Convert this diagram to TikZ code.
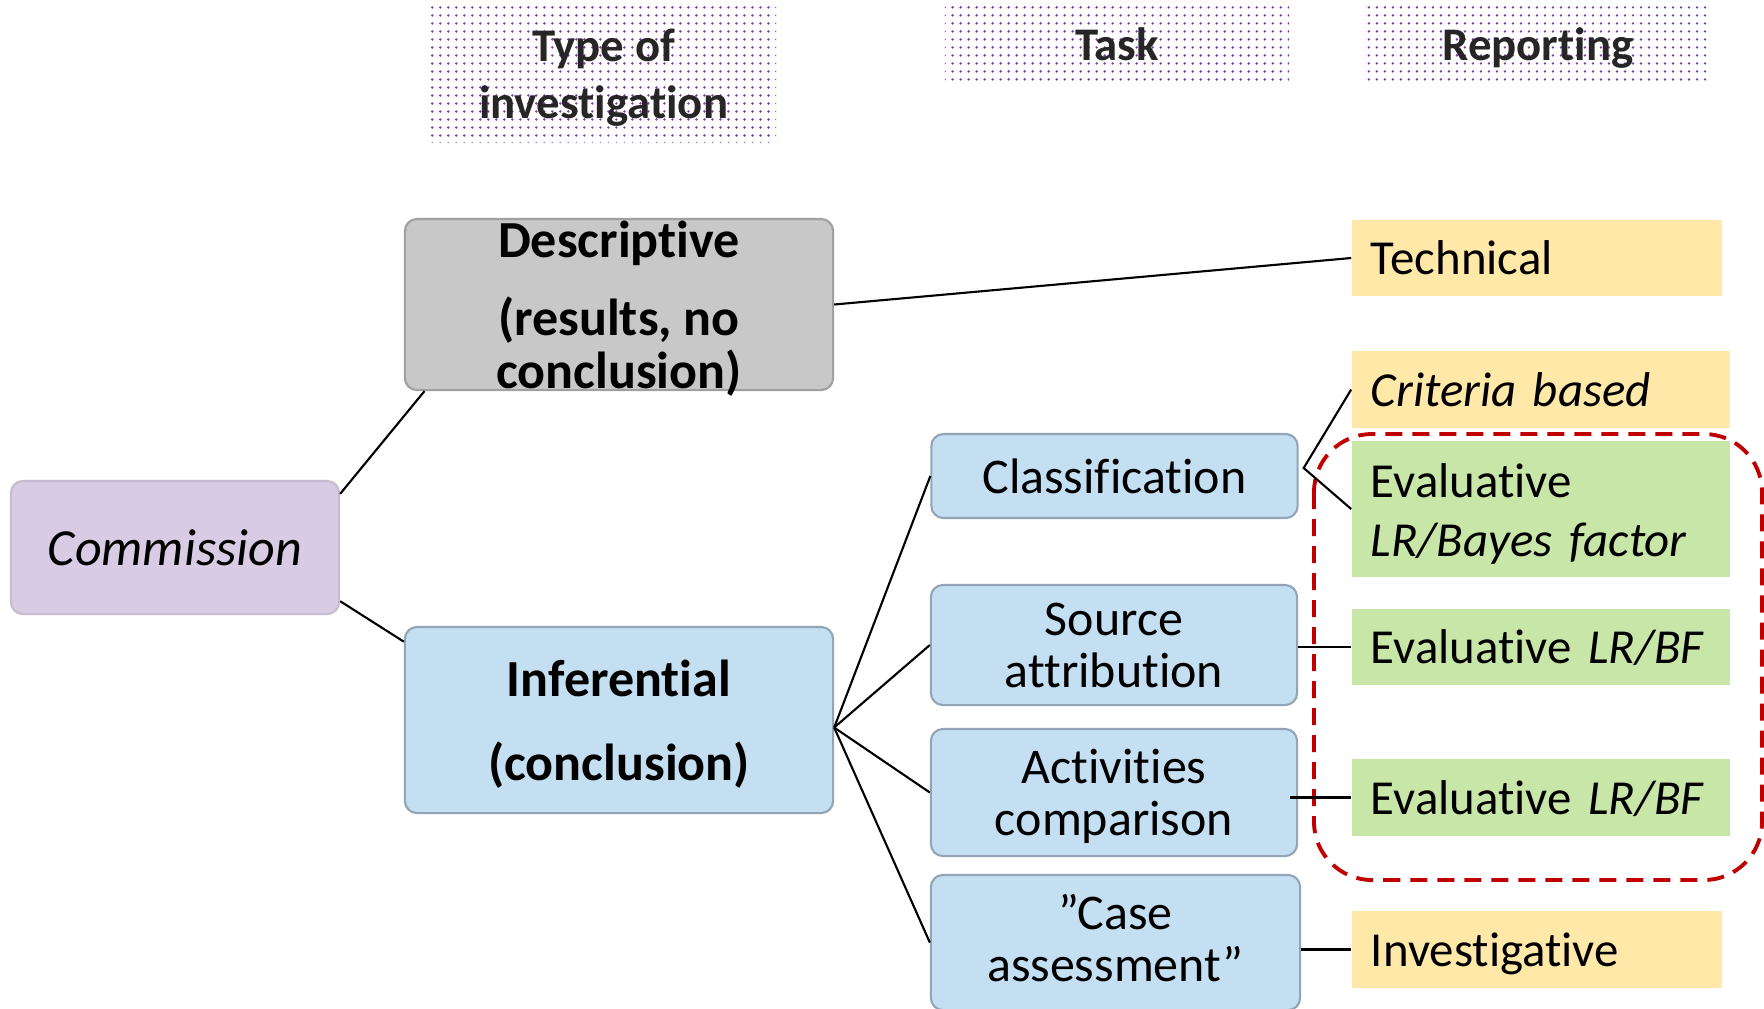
\documentclass[tikz,border=0pt]{standalone}
\usepackage{fontspec}
\setmainfont{Carlito}[Ligatures=NoCommon]
\usetikzlibrary{calc,patterns.meta}
\definecolor{CommClr}{RGB}{216,203,228}
\definecolor{DescClr}{RGB}{200,200,200}
\definecolor{InferClr}{RGB}{196,222,242}
\definecolor{FrameClr}{RGB}{146,164,181}
\definecolor{RepClr}{RGB}{255,232,168}
\definecolor{EvalClr}{RGB}{200,230,168}
\definecolor{DotClr}{RGB}{120,60,170}
\definecolor{HeadClr}{RGB}{38,38,38}
\definecolor{GroupClr}{RGB}{192,0,0}

\begin{document}
\begin{tikzpicture}[x=0.01cm,y=-0.01cm,
  box/.style={rounded corners=0.12cm,line width=0.6pt,inner sep=0pt,align=center,
    text depth=0pt,font=\fontsize{14.2}{14.8}\selectfont},
  headbox/.style={inner sep=0pt,align=center,text=HeadClr,text depth=0pt,
    pattern={Dots[distance=0.08cm,radius=0.38pt]},pattern color=DotClr,
    font=\bfseries\fontsize{13.3}{16.3}\selectfont},
  typebox/.style={box,font=\bfseries\fontsize{14.8}{14.8}\selectfont,
    minimum width=4.28cm},
  taskbox/.style={box,fill=InferClr,draw=FrameClr,minimum width=3.66cm},
  repbox/.style={inner sep=0pt,inner xsep=0.19cm,align=left,text width=3.40cm,
    text depth=0pt,font=\fontsize{13.9}{16.6}\selectfont},
  link/.style={line width=0.6pt}]
\useasboundingbox (0,0) rectangle (1764,1008);

\node[headbox,minimum width=3.45cm,minimum height=1.36cm] (HType) at (603.5,74) {Type of\\investigation};
\node[headbox,minimum width=3.44cm,minimum height=0.77cm] (HTask) at (1117,44.5) {Task};
\node[headbox,minimum width=3.44cm,minimum height=0.77cm] (HRep) at (1538,44.5) {Reporting};

\node[box,fill=CommClr,draw=CommClr!92!black,minimum width=3.28cm,minimum height=1.33cm,
  font=\itshape\fontsize{14.8}{15}\selectfont] (Comm) at (175,547.5) {Commission};

\node[typebox,fill=DescClr,draw=DescClr!80!black,minimum height=1.71cm] (Desc) at (619,304.5)
  {Descriptive\\[7.5pt](results, no\\conclusion)};
\node[typebox,fill=InferClr,draw=FrameClr,minimum height=1.86cm] (Infer) at (619,720)
  {Inferential\\[9pt](conclusion)};

\node[taskbox,minimum height=0.84cm] (Class) at (1114.5,476) {Classification};
\node[taskbox,minimum height=1.20cm] (Source) at (1114,645) {Source\\attribution};
\node[taskbox,minimum height=1.27cm] (Activ) at (1114,792.5) {Activities\\comparison};
\node[taskbox,minimum width=3.69cm,minimum height=1.35cm,text depth=0.1cm] (Case) at (1115.5,942.5) {”Case\\assessment”};

\node[repbox,fill=RepClr,text width=3.32cm,minimum height=0.76cm] (Tech) at (1537,258) {Technical};
\node[repbox,fill=RepClr,minimum height=0.77cm] (Crit) at (1541,389.5) {\itshape Criteria based};
\node[repbox,fill=EvalClr,minimum height=1.36cm,text depth=16pt] (EvalB) at (1541,509) {Evaluative\\\itshape LR/Bayes factor};
\node[repbox,fill=EvalClr,minimum height=0.76cm] (EvalS) at (1541,647) {Evaluative \textit{LR/BF}};
\node[repbox,fill=EvalClr,minimum height=0.77cm] (EvalA) at (1541,797.5) {Evaluative \textit{LR/BF}};
\node[repbox,fill=RepClr,text width=3.32cm,minimum height=0.77cm] (Invest) at (1537,949.5) {Investigative};

% evaluative reporting group
\draw[GroupClr,line width=1.1pt,rounded corners=0.58cm,dash pattern=on 0.17cm off 0.1cm]
  (1314,434) rectangle (1762,880);

\coordinate (ClassFork) at ($(Class.east)+(5,-8)$);

\draw[link] (Comm.18) -- (Desc.-156);
\draw[link] (Comm.-18.4) -- (Infer.160.7);
\draw[link] (Desc.east) -- (Tech.west);
\foreach \t in {Class,Source,Activ,Case}
  \draw[link] (Infer.-2.4) -- (\t.west);
\draw[link] (Crit.west) -- (ClassFork) -- (EvalB.west);
\draw[link] (EvalS.west) -- (EvalS.west -| Source.east);
\draw[link] (EvalA.west) -- ($(EvalA.west -| Activ.east)+(-8,0)$);
\draw[link] (Invest.west) -- (Invest.west -| Case.east);

\end{tikzpicture}
\end{document}
